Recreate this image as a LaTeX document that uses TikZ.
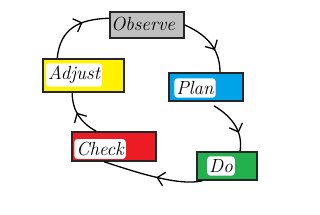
\documentclass[tikz,border=0pt]{standalone}
\usetikzlibrary{decorations.markings,calc}
\definecolor{cgray}{RGB}{192,192,192}
\definecolor{cyellow}{RGB}{255,242,0}
\definecolor{cblue}{RGB}{0,162,232}
\definecolor{cred}{RGB}{237,28,36}
\definecolor{cgreen}{RGB}{34,177,76}
\tikzset{
  stagebox/.style={draw=black!85, line width=1.6pt, inner sep=0pt},
  label/.style={font=\fontsize{19}{19}\selectfont\itshape, inner xsep=2pt, inner ysep=3pt, rounded corners=3pt},
  patch/.style={label, fill=white},
  flow/.style={line width=1.3pt, postaction={decorate},
    decoration={markings, mark=at position #1 with {\draw[line width=1.3pt, line join=miter] (-7pt,-7pt) -- (0pt,0pt) -- (-7pt,7pt);}}},
}
\begin{document}
\begin{tikzpicture}[x=1pt,y=-1pt]
\useasboundingbox[fill=white] (0,0) rectangle (320,214);
\node[stagebox, fill=cgray, minimum width=74pt, minimum height=26pt] (observe) at (147,25) {};
\node[stagebox, fill=cyellow, minimum width=81pt, minimum height=33pt] (adjust) at (83.5,75.5) {};
\node[stagebox, fill=cblue, minimum width=74pt, minimum height=28pt] (plan) at (206,87) {};
\node[stagebox, fill=cred, minimum width=84pt, minimum height=29pt] (check) at (114,146.5) {};
\node[stagebox, fill=cgreen, minimum width=60pt, minimum height=28pt] (do) at (227,166) {};

\node[label] (tobserve) at (143,24) {Observe};
\node[patch] (tadjust) at (74,75) {Adjust};
\node[patch] (tplan) at (195,88) {Plan};
\node[patch] (tcheck) at (100,149) {Check};
\node[patch] (tdo) at (221,166) {Do};

\draw[flow=0.62] ($(adjust.north west)+(15,0)$) .. controls +(3,-30) and +(-30,1) .. ($(observe.north west)+(0,7)$);
\draw[flow=0.62] (observe.east) .. controls +(20,9) and +(0,-25) .. ($(plan.north)+(14,0)$);
\draw[flow=0.65] ($(plan.south)+(8,4)$) .. controls +(20,12) and +(3,-18) .. ($(do.north)+(13,0)$);
\draw[flow=0.45] ($(do.south west)+(6,0)$) .. controls +(-25,6) and +(25,8) .. ($(check.south west)+(33,0)$);
\draw[flow=0.55] ($(check.north west)+(25,0)$) .. controls +(-15,-8) and +(0,18) .. ($(adjust.south west)+(30,0)$);
\end{tikzpicture}
\end{document}
